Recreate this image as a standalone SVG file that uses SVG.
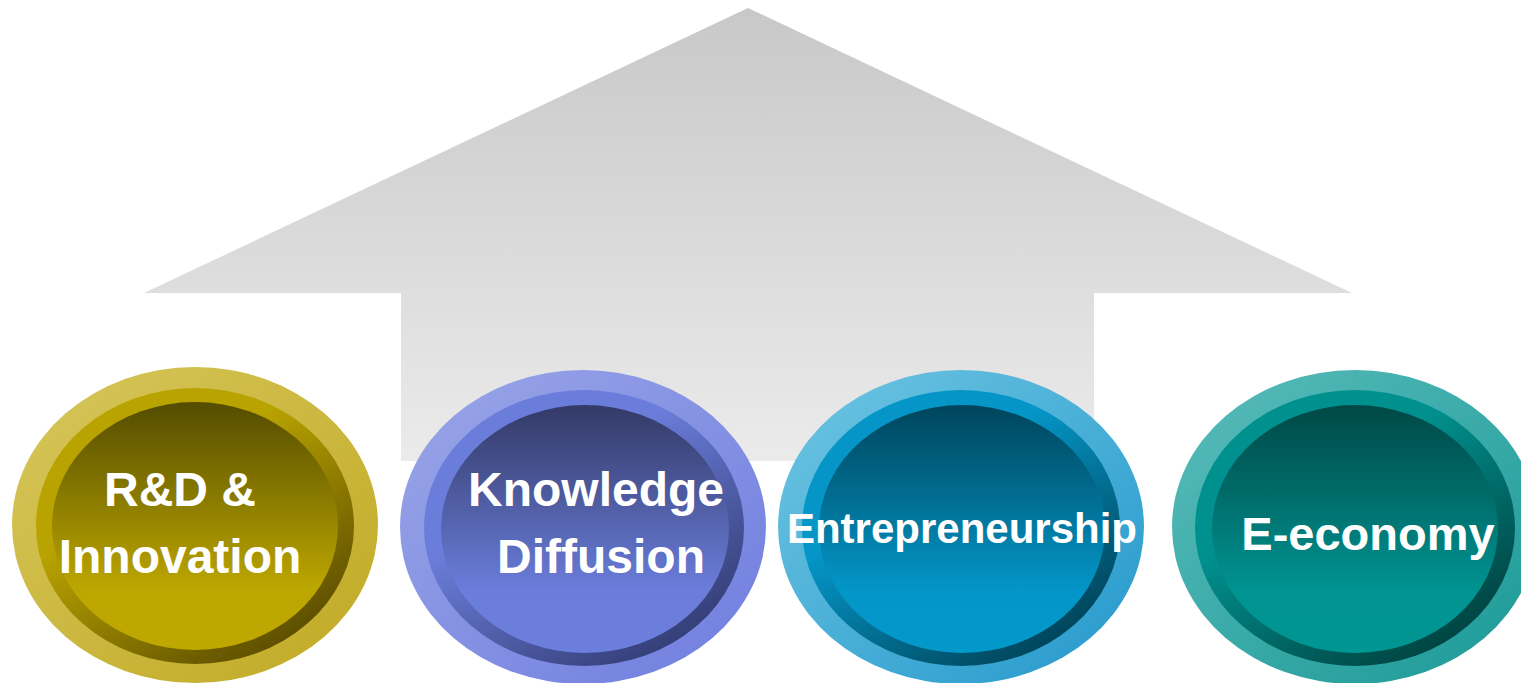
<svg xmlns="http://www.w3.org/2000/svg" width="1521" height="683" viewBox="0 0 1521 683">
<style>
.lbl{font-family:"Liberation Sans",Arial,sans-serif;font-weight:bold;fill:#ffffff;text-anchor:middle}
</style>
<defs>
<linearGradient id="arrowG" gradientUnits="userSpaceOnUse" x1="0" y1="8" x2="0" y2="462">
<stop offset="0" stop-color="#c8c8c8"/><stop offset="1" stop-color="#ebebeb"/>
</linearGradient>
<linearGradient id="o1" x1="0" y1="0" x2="1" y2="1"><stop offset="0" stop-color="#d6c75c"/><stop offset="1" stop-color="#c1a923"/></linearGradient>
<linearGradient id="m1" x1="0.2" y1="0.1" x2="0.8" y2="0.9"><stop offset="0.3" stop-color="#b9a300"/><stop offset="1" stop-color="#5f5000"/></linearGradient>
<linearGradient id="i1" x1="0" y1="0" x2="0" y2="1"><stop offset="0" stop-color="#544c00"/><stop offset="0.75" stop-color="#bca600"/><stop offset="1" stop-color="#bfa800"/></linearGradient>
<linearGradient id="o2" x1="0" y1="0" x2="1" y2="1"><stop offset="0" stop-color="#9aa6e7"/><stop offset="1" stop-color="#6f7ddf"/></linearGradient>
<linearGradient id="m2" x1="0.2" y1="0.1" x2="0.8" y2="0.9"><stop offset="0.3" stop-color="#6b7dda"/><stop offset="1" stop-color="#353f78"/></linearGradient>
<linearGradient id="i2" x1="0" y1="0" x2="0" y2="1"><stop offset="0" stop-color="#333a66"/><stop offset="0.75" stop-color="#6a7ddb"/><stop offset="1" stop-color="#6c7fdd"/></linearGradient>
<linearGradient id="o3" x1="0" y1="0" x2="1" y2="1"><stop offset="0" stop-color="#6fc6e2"/><stop offset="1" stop-color="#2498cc"/></linearGradient>
<linearGradient id="m3" x1="0.2" y1="0.1" x2="0.8" y2="0.9"><stop offset="0.3" stop-color="#0595c7"/><stop offset="1" stop-color="#00465c"/></linearGradient>
<linearGradient id="i3" x1="0" y1="0" x2="0" y2="1"><stop offset="0" stop-color="#00455c"/><stop offset="0.75" stop-color="#0396c8"/><stop offset="1" stop-color="#0499cb"/></linearGradient>
<linearGradient id="o4" x1="0" y1="0" x2="1" y2="1"><stop offset="0" stop-color="#5abcbb"/><stop offset="1" stop-color="#1a9996"/></linearGradient>
<linearGradient id="m4" x1="0.2" y1="0.1" x2="0.8" y2="0.9"><stop offset="0.3" stop-color="#00918f"/><stop offset="1" stop-color="#004543"/></linearGradient>
<linearGradient id="i4" x1="0" y1="0" x2="0" y2="1"><stop offset="0" stop-color="#004846"/><stop offset="0.75" stop-color="#009391"/><stop offset="1" stop-color="#009694"/></linearGradient>
</defs>
<rect width="1521" height="683" fill="#ffffff"/>
<g id="arrow">
<polygon points="748,8 1352,293 1094,293 1094,461 401,461 401,293 144,293" fill="url(#arrowG)"/>
</g>
<g id="connectors"/>
<g id="node-rd">
<ellipse cx="195" cy="525" rx="183" ry="158" fill="url(#o1)"/>
<ellipse cx="195" cy="526" rx="159" ry="138" fill="url(#m1)"/>
<ellipse cx="195" cy="526" rx="143" ry="124" fill="url(#i1)"/>
<text class="lbl" x="180" y="506" font-size="48">R&amp;D &amp;</text>
<text class="lbl" x="180" y="573" font-size="48">Innovation</text>
</g>
<g id="node-knowledge">
<ellipse cx="583" cy="527" rx="183" ry="157" fill="url(#o2)"/>
<ellipse cx="584" cy="528" rx="160" ry="138" fill="url(#m2)"/>
<ellipse cx="585" cy="529" rx="144" ry="124" fill="url(#i2)"/>
<text class="lbl" x="596" y="506" font-size="48">Knowledge</text>
<text class="lbl" x="601" y="573" font-size="48">Diffusion</text>
</g>
<g id="node-entre">
<ellipse cx="961" cy="527" rx="183" ry="157" fill="url(#o3)"/>
<ellipse cx="961" cy="528" rx="159" ry="138" fill="url(#m3)"/>
<ellipse cx="962" cy="529" rx="143" ry="124" fill="url(#i3)"/>
<text class="lbl" x="962" y="543" font-size="42">Entrepreneurship</text>
</g>
<g id="node-eeconomy">
<ellipse cx="1355" cy="527" rx="183" ry="157" fill="url(#o4)"/>
<ellipse cx="1355" cy="528" rx="160" ry="138" fill="url(#m4)"/>
<ellipse cx="1355" cy="529" rx="143" ry="124" fill="url(#i4)"/>
<text class="lbl" x="1368" y="550" font-size="47">E-economy</text>
</g>
</svg>
